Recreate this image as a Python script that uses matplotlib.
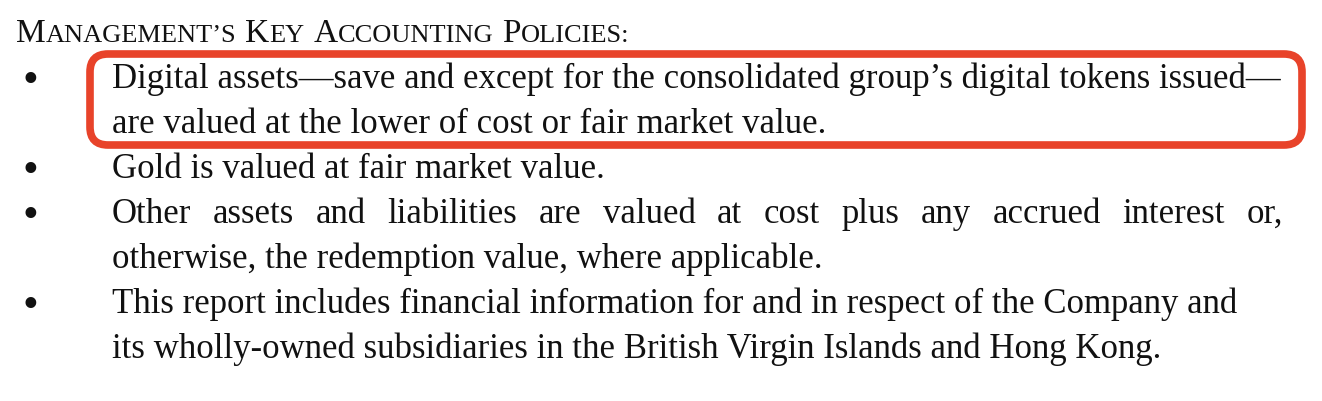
import matplotlib.pyplot as plt
from matplotlib.patches import FancyBboxPatch

title_words = ["Management's", "Key", "Accounting", "Policies:"]
bullet_lines = [
    ["Digital assets\u2014save and except for the consolidated group\u2019s digital tokens issued\u2014",
     "are valued at the lower of cost or fair market value."],
    ["Gold is valued at fair market value."],
    ["Other assets and liabilities are valued at cost plus any accrued interest or,",
     "otherwise, the redemption value, where applicable."],
    ["This report includes financial information for and in respect of the Company and",
     "its wholly-owned subsidiaries in the British Virgin Islands and Hong Kong."],
]
justify = {(2, 0)}

W, H = 1322, 402
fig = plt.figure(figsize=(W / 100, H / 100), dpi=100)
ax = fig.add_axes([0, 0, 1, 1])
ax.set_xlim(0, W)
ax.set_ylim(H, 0)
ax.axis('off')
fig.canvas.draw()
r = fig.canvas.get_renderer()
FONT = 'Liberation Serif'
FS = 25
color = '#111111'

def width(t):
    return t.get_window_extent(r).width

# small caps title
x = 16
for w in title_words:
    first, rest = w[0], w[1:].upper().replace("'", "\u2019")
    t = ax.text(x, 42, first, fontsize=FS * 0.96, family=FONT, color=color, va='baseline')
    x += width(t)
    t = ax.text(x, 42, rest, fontsize=FS * 0.76, family=FONT, color=color, va='baseline')
    x += width(t) + 9

y = 88
left, right = 112, 1283
for i, lines in enumerate(bullet_lines):
    ax.text(30, y + 4, '\u2022', fontsize=FS * 1.3, family=FONT, color=color, va='baseline', ha='center')
    for j, line in enumerate(lines):
        if (i, j) in justify:
            words = line.split()
            ts = [ax.text(0, y, w, fontsize=FS, family=FONT, color=color, va='baseline') for w in words]
            ws = [width(t) for t in ts]
            gap = (right - left - sum(ws)) / (len(words) - 1)
            xx = left
            for t, ww in zip(ts, ws):
                t.set_x(xx)
                xx += ww + gap
        else:
            ax.text(left, y, line, fontsize=FS, family=FONT, color=color, va='baseline')
        y += 45

box = FancyBboxPatch((90, 55), 1212, 91, boxstyle='round,pad=0,rounding_size=18',
                     fill=False, edgecolor='#E8432A', linewidth=5.5)
ax.add_patch(box)
fig.savefig('out.png', dpi=100)
